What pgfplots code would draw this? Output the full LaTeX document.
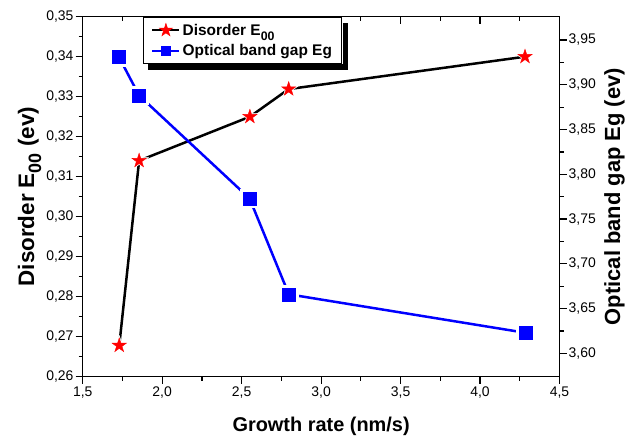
\documentclass[border=0pt]{standalone}
\usepackage{fontspec}
\setmainfont{Liberation Sans}
\usepackage{graphicx}
\usepackage{pgfplots}
\usepackage{pgfplotstable}
\pgfplotsset{compat=1.18}
\usetikzlibrary{calc}

\newcommand\subz[1]{\raisebox{-0.32em}{\scalebox{0.8}{#1}}}

\pgfdeclareplotmark{fstar}{%
 \pgfpathmoveto{\pgfpointpolar{90}{\pgfplotmarksize}}%
 \pgfpathlineto{\pgfpointpolar{126}{0.382*\pgfplotmarksize}}%
 \pgfpathlineto{\pgfpointpolar{162}{\pgfplotmarksize}}%
 \pgfpathlineto{\pgfpointpolar{198}{0.382*\pgfplotmarksize}}%
 \pgfpathlineto{\pgfpointpolar{234}{\pgfplotmarksize}}%
 \pgfpathlineto{\pgfpointpolar{270}{0.382*\pgfplotmarksize}}%
 \pgfpathlineto{\pgfpointpolar{306}{\pgfplotmarksize}}%
 \pgfpathlineto{\pgfpointpolar{342}{0.382*\pgfplotmarksize}}%
 \pgfpathlineto{\pgfpointpolar{18}{\pgfplotmarksize}}%
 \pgfpathlineto{\pgfpointpolar{54}{0.382*\pgfplotmarksize}}%
 \pgfpathclose
 \pgfusepathqfillstroke}

\pgfplotstableread{
x y
1.730 0.2678
1.855 0.3140
2.552 0.3250
2.796 0.3319
4.283 0.3400
}\disorder

\pgfplotstableread{
x y
1.728 3.931
1.855 3.888
2.550 3.773
2.797 3.666
4.287 3.623
}\gap

\pgfplotsset{
  common/.style={
    scale only axis, width=476.8bp, height=360bp,
    xmin=1.5, xmax=4.5,
    major tick length=7bp, minor tick length=4bp,
    axis line style={line width=1.2bp, black},
    tick style={line width=1.2bp, black},
    tick label style={font=\fontsize{14}{16}\selectfont},
    /pgf/number format/assume math mode=true,
    xtick={1.5,2.0,2.5,3.0,3.5,4.0,4.5},
    minor x tick num=1,
  }
}

\begin{document}
\begin{tikzpicture}
% left axis + bottom x axis
\begin{axis}[common, name=main,
  ymin=0.26, ymax=0.35,
  axis x line*=bottom, axis y line*=left,
  tick align=outside,
  ytick={0.26,0.27,0.28,0.29,0.30,0.31,0.32,0.33,0.34,0.35},
  minor y tick num=1,
  xticklabel style={inner sep=3bp, /pgf/number format/.cd, fixed, fixed zerofill, precision=1, use comma},
  yticklabel style={inner sep=2bp, /pgf/number format/.cd, fixed, fixed zerofill, precision=2, use comma},
  xlabel={Growth rate (nm/s)},
  ylabel={Disorder E\subz{00} (ev)},
  label style={font=\fontsize{20}{24}\selectfont\bfseries},
  ylabel style={font=\fontsize{22.5}{26}\selectfont\bfseries, at={(axis description cs:-0.102,0.5)}, anchor=base},
  xlabel style={at={(axis description cs:0.5,0)}, anchor=base, yshift=-55bp},
]
\addplot[black, line width=2.5bp, forget plot] table {\disorder};
\addplot[only marks, mark=fstar, mark size=10bp, mark options={fill=white, draw=white}, forget plot] table {\disorder};
\addplot[only marks, mark=fstar, mark size=7.5bp, mark options={fill=red, draw=red}, forget plot] table {\disorder};
\end{axis}

% top x axis, ticks inside
\begin{axis}[common,
  ymin=0, ymax=1,
  axis x line*=top, axis y line=none,
  tick align=inside,
  xticklabels={},
]
\end{axis}

% right axis
\begin{axis}[common,
  ymin=3.574, ymax=3.976,
  axis x line=none, axis y line*=right,
  tick align=outside,
  ytick={3.60,3.65,3.70,3.75,3.80,3.85,3.90,3.95},
  minor y tick num=1,
  yticklabel style={inner sep=2bp, /pgf/number format/.cd, fixed, fixed zerofill, precision=2, use comma},
  ylabel={Optical band gap Eg (ev)},
  ylabel style={font=\fontsize{22}{26}\selectfont\bfseries, at={(axis description cs:1.127,0.5)}, anchor=base},
  legend style={name=leg, at={(0.1258,0.998)}, anchor=north west, draw=black, line width=1bp, fill=white,
    font=\fontsize{15.5}{18}\selectfont\bfseries, row sep=4bp, inner xsep=8bp, inner ysep=4bp,
    nodes={inner sep=2bp}},
  legend cell align=left,
  legend image code/.code={\draw[mark repeat=2, mark phase=2, #1] plot coordinates {(0bp,0bp) (13.5bp,0bp) (27bp,0bp)};},
]
\addlegendimage{black, line width=2.5bp, mark=fstar, mark size=6.8bp, mark options={fill=red, draw=red, line width=0.5bp}}
\addlegendentry{Disorder E\subz{00}}
\addlegendimage{blue, line width=2.5bp, mark=square*, mark size=4.3bp, mark options={fill=blue, draw=blue, line width=0.5bp}}
\addlegendentry{Optical band gap Eg}
\addplot[blue, line width=2.5bp, forget plot] table {\gap};
\addplot[only marks, mark=square*, mark size=9bp, mark options={fill=white, draw=white}, forget plot] table {\gap};
\addplot[only marks, mark=square*, mark size=6.5bp, mark options={fill=blue, draw=blue, line width=0.5bp}, forget plot] table {\gap};
\end{axis}

% legend shadow (offset strips below and right of the legend box)
\fill[black] ($(leg.south west)+(5.5bp,-0.5bp)$) rectangle ($(leg.south east)+(6bp,-6bp)$);
\fill[black] ($(leg.north east)+(0.5bp,-5.5bp)$) rectangle ($(leg.south east)+(6bp,-6bp)$);

\pgfresetboundingbox
\path ($(main.south west)+(-82.7bp,-60.3bp)$) rectangle ($(main.north east)+(67.5bp,16.7bp)$);
\end{tikzpicture}
\end{document}
